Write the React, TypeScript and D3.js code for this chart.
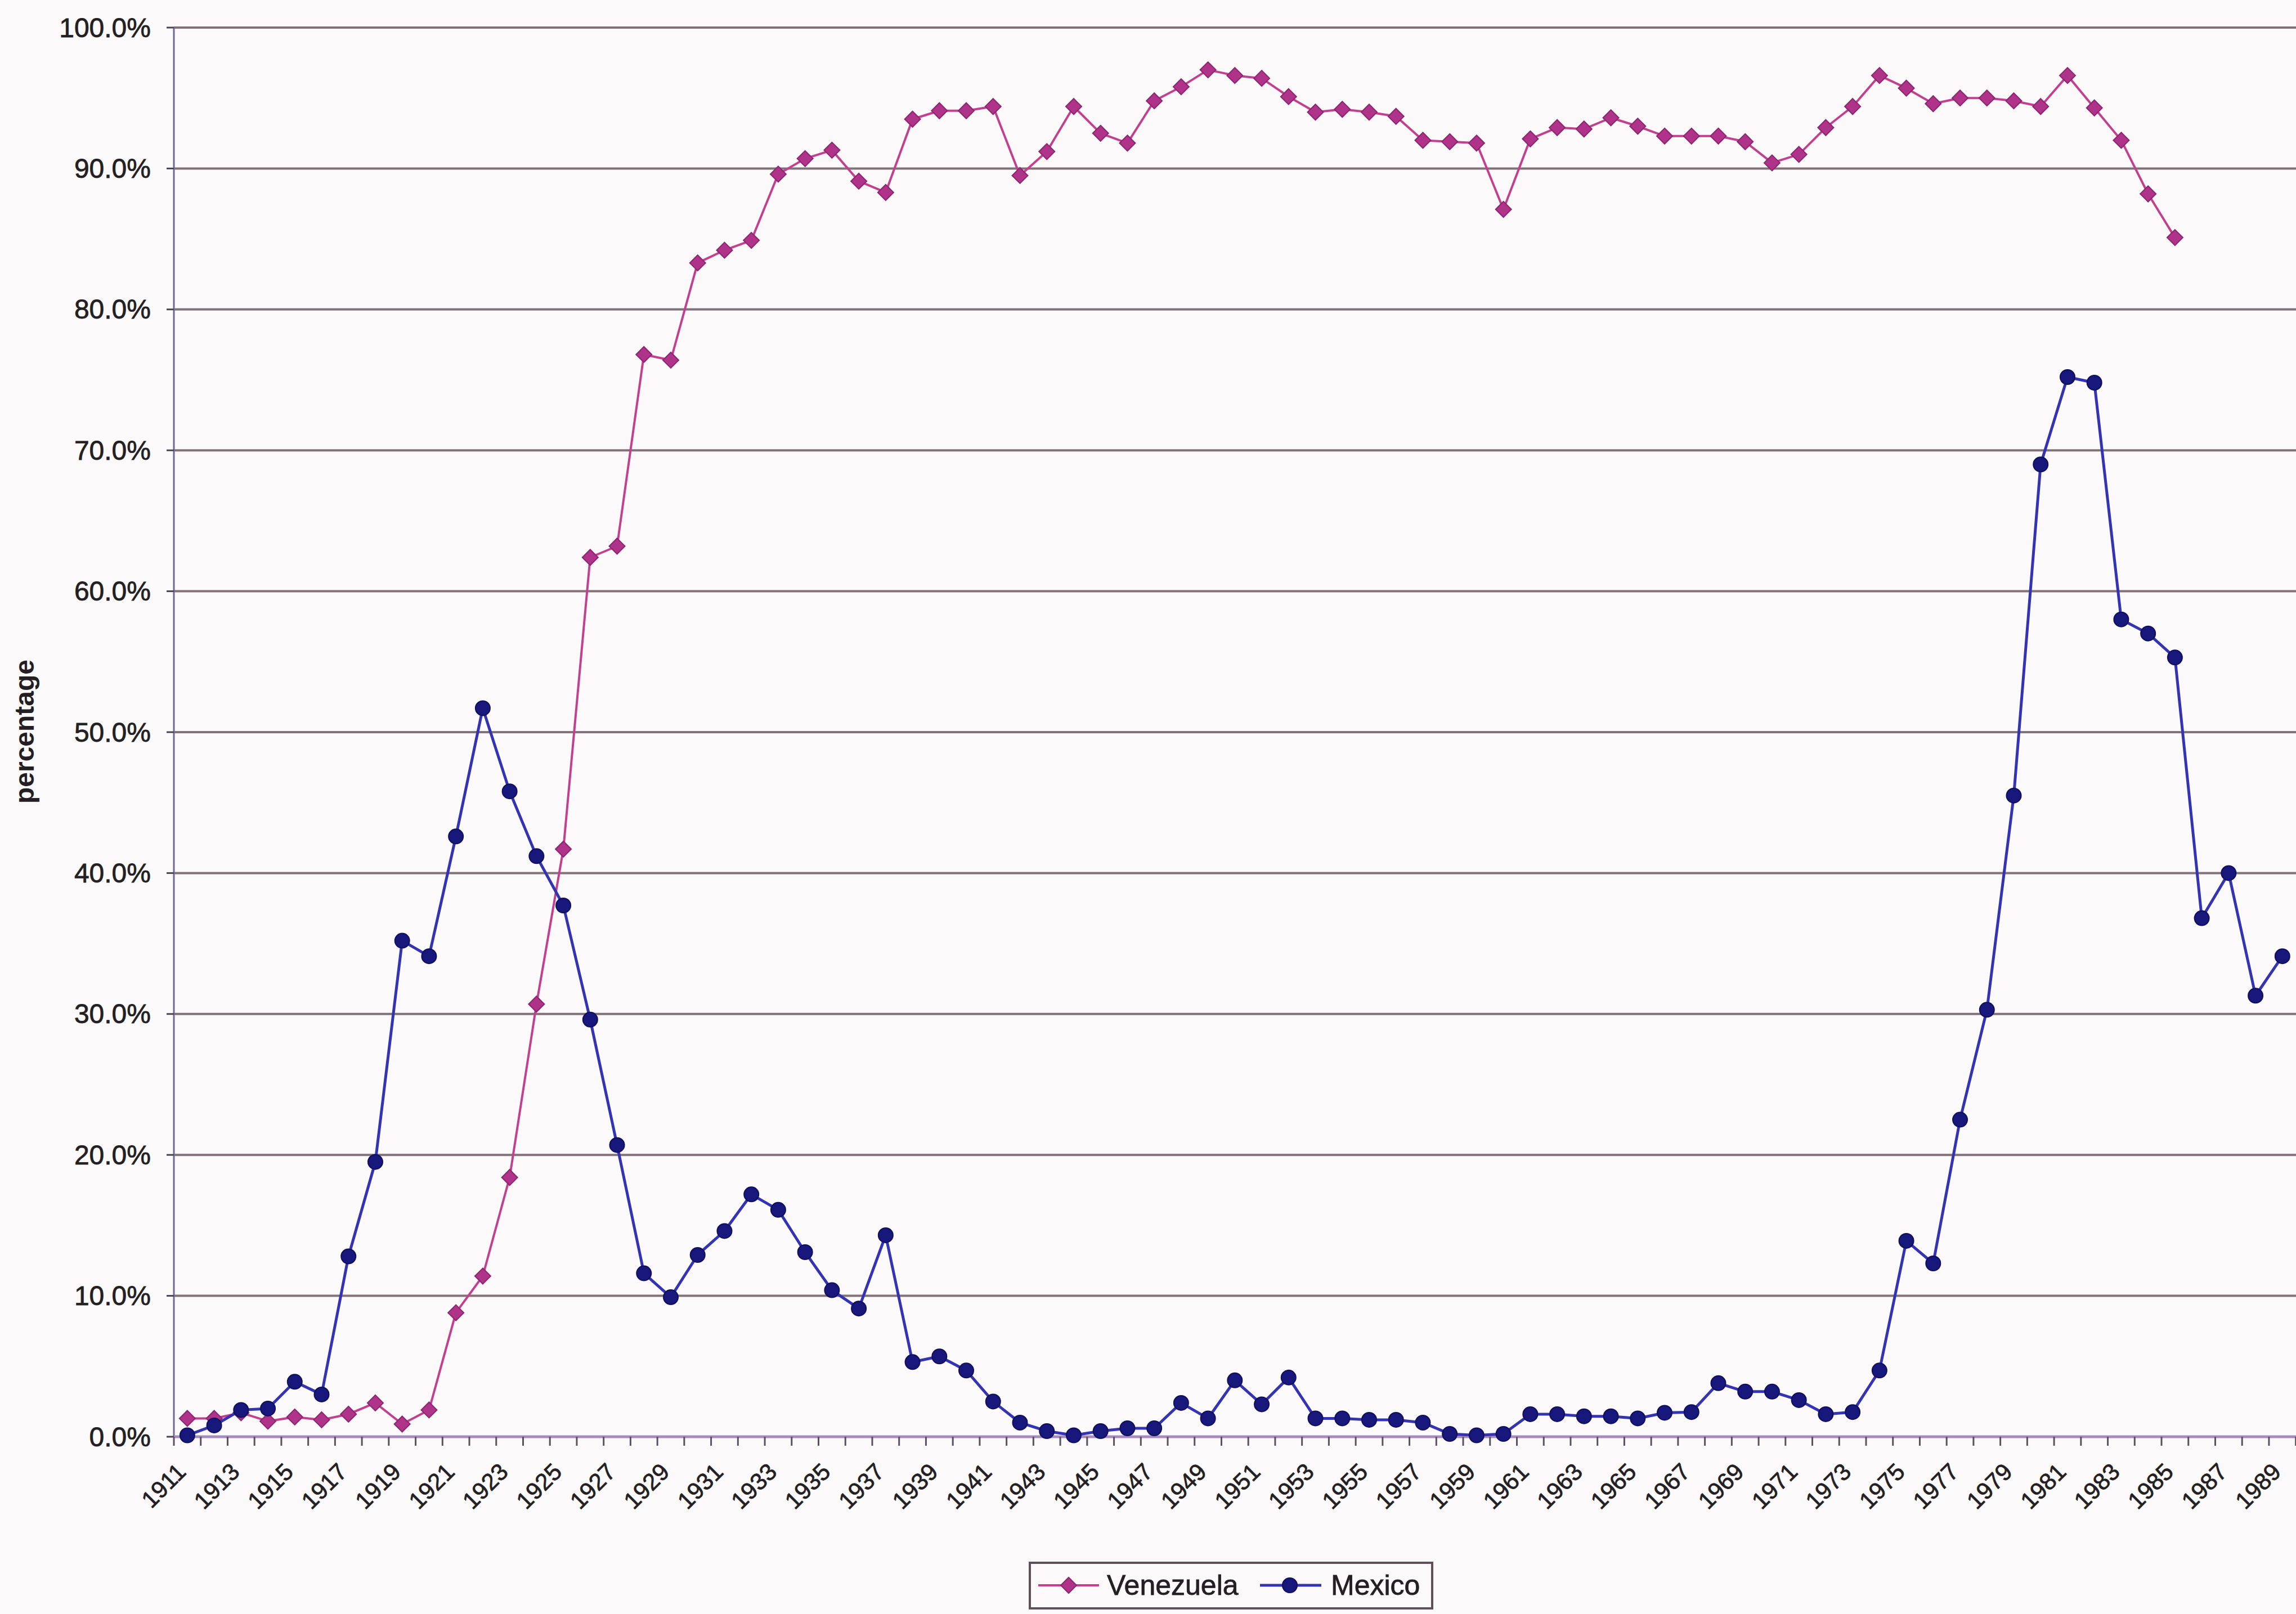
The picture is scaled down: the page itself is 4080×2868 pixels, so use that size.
import React from "react";
import * as d3 from "d3";

// Categories (one per year) and the two series, in percent of total.
const years = [
  1911, 1912, 1913, 1914, 1915, 1916, 1917, 1918, 1919, 1920,
  1921, 1922, 1923, 1924, 1925, 1926, 1927, 1928, 1929, 1930,
  1931, 1932, 1933, 1934, 1935, 1936, 1937, 1938, 1939, 1940,
  1941, 1942, 1943, 1944, 1945, 1946, 1947, 1948, 1949, 1950,
  1951, 1952, 1953, 1954, 1955, 1956, 1957, 1958, 1959, 1960,
  1961, 1962, 1963, 1964, 1965, 1966, 1967, 1968, 1969, 1970,
  1971, 1972, 1973, 1974, 1975, 1976, 1977, 1978, 1979, 1980,
  1981, 1982, 1983, 1984, 1985, 1986, 1987, 1988, 1989, 1990,
];

// Venezuela, 1911–1985
const venezuela = [
  1.3, 1.3, 1.7, 1.1, 1.4, 1.2, 1.6, 2.4, 0.9, 1.9,
  8.8, 11.4, 18.4, 30.7, 41.7, 62.4, 63.2, 76.8, 76.4, 83.3,
  84.2, 84.9, 89.6, 90.7, 91.3, 89.1, 88.3, 93.5, 94.1, 94.1,
  94.4, 89.5, 91.2, 94.4, 92.5, 91.8, 94.8, 95.8, 97.0, 96.6,
  96.4, 95.1, 94.0, 94.2, 94.0, 93.7, 92.0, 91.9, 91.8, 87.1,
  92.1, 92.9, 92.8, 93.6, 93.0, 92.3, 92.3, 92.3, 91.9, 90.4,
  91.0, 92.9, 94.4, 96.6, 95.7, 94.6, 95.0, 95.0, 94.8, 94.4,
  96.6, 94.3, 92.0, 88.2, 85.1,
];

// Mexico, 1911–1989
const mexico = [
  0.1, 0.8, 1.9, 2.0, 3.9, 3.0, 12.8, 19.5, 35.2, 34.1,
  42.6, 51.7, 45.8, 41.2, 37.7, 29.6, 20.7, 11.6, 9.9, 12.9,
  14.6, 17.2, 16.1, 13.1, 10.4, 9.1, 14.3, 5.3, 5.7, 4.7,
  2.5, 1.0, 0.4, 0.1, 0.4, 0.6, 0.6, 2.4, 1.3, 4.0,
  2.3, 4.2, 1.3, 1.3, 1.2, 1.2, 1.0, 0.2, 0.1, 0.2,
  1.6, 1.6, 1.45, 1.45, 1.3, 1.7, 1.75, 3.8, 3.2, 3.2,
  2.6, 1.6, 1.75, 4.7, 13.9, 12.3, 22.5, 30.3, 45.5, 69.0,
  75.2, 74.8, 58.0, 57.0, 55.3, 36.8, 40.0, 31.3, 34.1,
];

const yTicks = [0, 10, 20, 30, 40, 50, 60, 70, 80, 90, 100];
// every other year is labelled on the category axis
const labelYears = years.filter((yr, i) => i % 2 === 0);

const seriesNames = ["Venezuela", "Mexico"];

const W = 4080;
const H = 2868;
const FONT = "'Liberation Sans', Arial, Helvetica, sans-serif";

const PLOT_LEFT = 309;
const PLOT_TOP = 49;
const PLOT_BOTTOM = 2553;
const BAND = 47.73;

const BG = "#fcf9fb";
const GRID = "#807278";
const TEXT = "#231f23";
const VEN_LINE = "#c2418f";
const VEN_MARK = "#b0338a";
const VEN_EDGE = "#8c2570";
const MEX_LINE = "#3434b2";
const MEX_MARK = "#17177c";
const MEX_EDGE = "#0f0f5c";

const diamond = (r: number) => `M0,${-r}L${r},0L0,${r}L${-r},0Z`;

export default function App() {
  const x = d3
    .scaleBand<number>()
    .domain(years)
    .range([PLOT_LEFT, PLOT_LEFT + BAND * years.length])
    .padding(0);
  const cx = (yr: number) => (x(yr) as number) + x.bandwidth() / 2;
  const y = d3.scaleLinear().domain([0, 100]).range([PLOT_BOTTOM, PLOT_TOP]);

  const venData = venezuela.map((v, i) => ({ yr: years[i], v }));
  const mexData = mexico.map((v, i) => ({ yr: years[i], v }));

  const line = d3
    .line<{ yr: number; v: number }>()
    .x((d) => cx(d.yr))
    .y((d) => y(d.v));

  const plotRight = PLOT_LEFT + BAND * years.length;
  const fmt = d3.format(".1f");

  // legend geometry
  const LEG_X = 1830;
  const LEG_Y = 2777;
  const LEG_W = 715;
  const LEG_H = 81;
  const legMidY = 2817;

  const textInk = { fill: TEXT, stroke: TEXT, strokeWidth: 0.8 };

  return (
    <svg
      width={W}
      height={H}
      viewBox={`0 0 ${W} ${H}`}
      style={{ position: "absolute", left: 0, top: 0, display: "block" }}
      fontFamily={FONT}
    >
      <rect x={0} y={0} width={W} height={H} fill={BG} />

      {/* horizontal gridlines */}
      {yTicks.map((t) =>
        t === 0 ? null : (
          <line
            key={`g${t}`}
            x1={PLOT_LEFT}
            x2={plotRight}
            y1={y(t)}
            y2={y(t)}
            stroke={GRID}
            strokeWidth={4}
          />
        )
      )}

      {/* value axis */}
      <line x1={PLOT_LEFT} x2={PLOT_LEFT} y1={PLOT_TOP} y2={PLOT_BOTTOM} stroke="#6f6a9a" strokeWidth={3} />
      {yTicks.map((t) => (
        <g key={`yt${t}`}>
          <line x1={PLOT_LEFT - 13} x2={PLOT_LEFT} y1={y(t)} y2={y(t)} stroke="#4a4450" strokeWidth={3} />
          <text
            x={268}
            y={y(t)}
            textAnchor="end"
            dominantBaseline="central"
            fontSize={48}
            {...textInk}
          >
            {fmt(t)}%
          </text>
        </g>
      ))}

      {/* category axis */}
      <line x1={PLOT_LEFT} x2={plotRight} y1={PLOT_BOTTOM} y2={PLOT_BOTTOM} stroke="#a58cbf" strokeWidth={5} />
      {years.map((yr) => (
        <line
          key={`xt${yr}`}
          x1={x(yr) as number}
          x2={x(yr) as number}
          y1={PLOT_BOTTOM}
          y2={PLOT_BOTTOM + 16}
          stroke="#5a5260"
          strokeWidth={3}
        />
      ))}
      {labelYears.map((yr) => {
        const ax = cx(yr);
        const ay = 2618;
        return (
          <text
            key={`xl${yr}`}
            x={ax}
            y={ay}
            textAnchor="end"
            fontSize={42}
            {...textInk}
            transform={`rotate(-45 ${ax} ${ay})`}
          >
            {yr}
          </text>
        );
      })}

      {/* axis title */}
      <text
        x={60}
        y={1300}
        transform="rotate(-90 60 1300)"
        textAnchor="middle"
        fontSize={48}
        fontWeight="bold"
        fill={TEXT}
      >
        percentage
      </text>

      {/* Venezuela */}
      <path d={line(venData) || ""} fill="none" stroke={VEN_LINE} strokeWidth={4} strokeLinejoin="round" />
      {venData.map((d) => (
        <path
          key={`v${d.yr}`}
          d={diamond(14)}
          transform={`translate(${cx(d.yr)},${y(d.v)})`}
          fill={VEN_MARK}
          stroke={VEN_EDGE}
          strokeWidth={2}
        />
      ))}

      {/* Mexico */}
      <path d={line(mexData) || ""} fill="none" stroke={MEX_LINE} strokeWidth={5} strokeLinejoin="round" />
      {mexData.map((d) => (
        <circle
          key={`m${d.yr}`}
          cx={cx(d.yr)}
          cy={y(d.v)}
          r={13}
          fill={MEX_MARK}
          stroke={MEX_EDGE}
          strokeWidth={2}
        />
      ))}

      {/* legend */}
      <rect x={LEG_X} y={LEG_Y} width={LEG_W} height={LEG_H} fill={BG} stroke="#5e5258" strokeWidth={4} />
      <line x1={1845} x2={1953} y1={legMidY} y2={legMidY} stroke={VEN_LINE} strokeWidth={4} />
      <path d={diamond(14)} transform={`translate(1899,${legMidY})`} fill={VEN_MARK} stroke={VEN_EDGE} strokeWidth={2} />
      <text x={1967} y={2834} fontSize={50} {...textInk}>
        {seriesNames[0]}
      </text>
      <line x1={2239} x2={2348} y1={legMidY} y2={legMidY} stroke={MEX_LINE} strokeWidth={5} />
      <circle cx={2292} cy={legMidY} r={13} fill={MEX_MARK} stroke={MEX_EDGE} strokeWidth={2} />
      <text x={2365} y={2834} fontSize={50} {...textInk}>
        {seriesNames[1]}
      </text>
    </svg>
  );
}
